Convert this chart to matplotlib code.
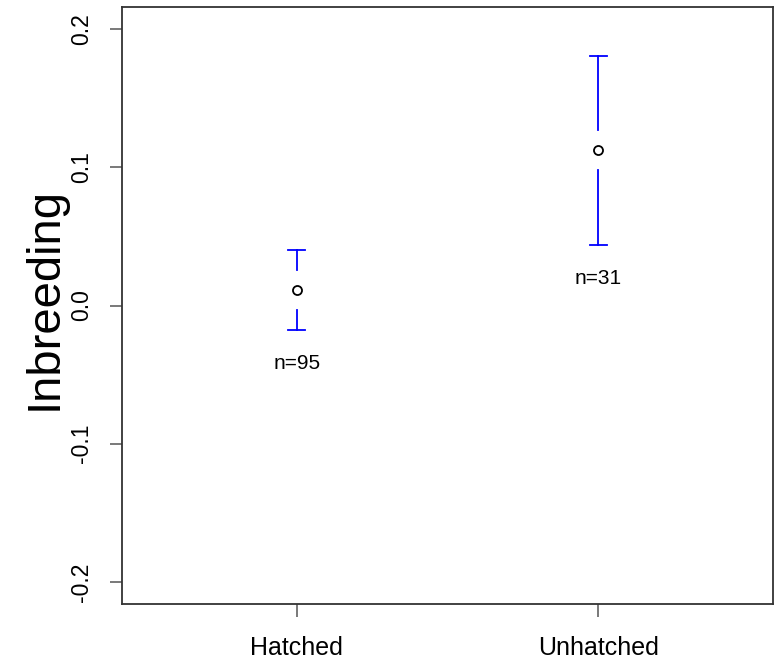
import numpy as np
import matplotlib
matplotlib.use("Agg")
import matplotlib.pyplot as plt

plt.rcParams['font.family'] = ['Liberation Sans', 'DejaVu Sans']

# data
groups = ['Hatched', 'Unhatched']
means = [0.0112, 0.1125]
upper = [0.0401, 0.1805]
lower = [-0.0177, 0.0438]
counts = [95, 31]

x = np.arange(1, len(groups) + 1)
gap = 0.0145  # break in the bar around the point, in data units

fig = plt.figure(figsize=(7.84, 6.65), dpi=100)
ax = fig.add_axes([122 / 784, 1 - 604 / 665, (773 - 122) / 784, (604 - 7) / 665])

blue = '#0000ff'
for xi, m, hi, lo, n in zip(x, means, upper, lower, counts):
    ax.plot([xi, xi], [m + gap, hi], color=blue, lw=1.3)
    ax.plot([xi, xi], [lo, m - gap], color=blue, lw=1.3)
    ax.plot([xi - 0.028, xi + 0.028], [hi, hi], color=blue, lw=1.3)
    ax.plot([xi - 0.028, xi + 0.028], [lo, lo], color=blue, lw=1.3)
    ax.plot(xi, m, 'o', mfc='white', mec='black', ms=6.5, mew=1.3)
    ax.annotate('n=%d' % n, (xi, lo), xytext=(0, -24), textcoords='offset points',
                ha='center', va='center', fontsize=15)

ax.set_xlim(0.42, 2.58)
ax.set_ylim(-0.216, 0.216)
ax.set_xticks(x)
ax.set_xticklabels(groups, fontsize=18)
ax.set_yticks([-0.2, -0.1, 0.0, 0.1, 0.2])
ax.set_yticklabels(['-0.2', '-0.1', '0.0', '0.1', '0.2'], rotation=90,
                   va='center', fontsize=16.5)
ax.tick_params(axis='both', length=9, width=1.1, color='#555555')
ax.tick_params(axis='x', pad=14)
ax.tick_params(axis='y', pad=12)
for s in ax.spines.values():
    s.set_color('#333333')
    s.set_linewidth(1.3)

fig.text(45 / 784, 1 - 298 / 665, 'Inbreeding', rotation=90, fontsize=34,
         ha='center', va='center')

fig.savefig('out.png', dpi=100)
